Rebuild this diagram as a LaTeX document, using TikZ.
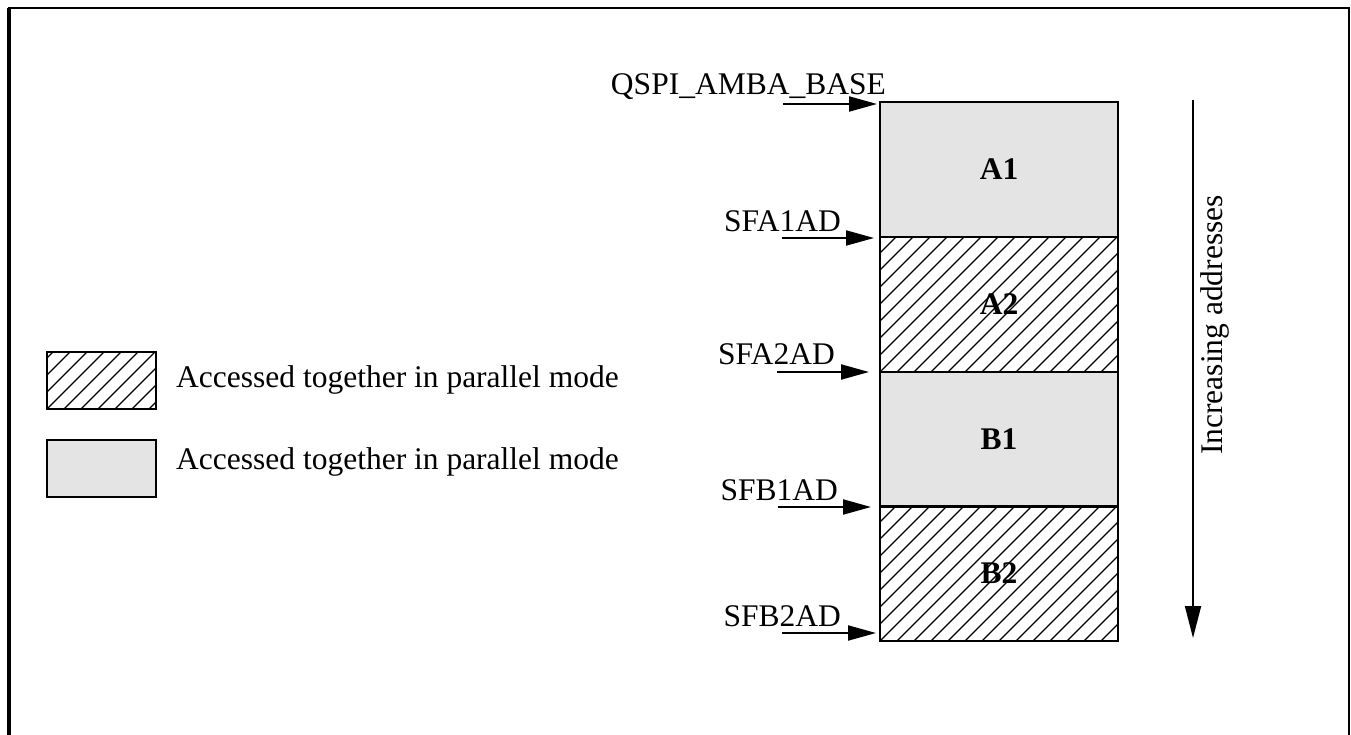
\documentclass[tikz,border=0pt]{standalone}
\usepackage{fontspec}
\setmainfont{Liberation Serif}
\usetikzlibrary{arrows.meta}
\definecolor{memgray}{RGB}{228,228,228}
\begin{document}
\begin{tikzpicture}[x=1pt,y=-1pt,
  txt/.style={font=\fontsize{31.5}{36}\selectfont, inner sep=0pt},
  membox/.style={draw, line width=2pt, minimum width=238pt, minimum height=135pt,
    inner sep=0pt, font=\fontsize{31.5}{36}\selectfont\bfseries},
  grayfill/.style={fill=memgray},
  hatch/.style={path picture={
    \foreach \i in {-340,-323,...,340}{
      \draw[line width=1.1pt] ([xshift=\i pt]path picture bounding box.south west) -- ++(340,-340);}}},
  legbox/.style={draw, line width=1.6pt, minimum width=109pt, minimum height=57pt, inner sep=0pt},
  ptr/.style={-{Triangle[length=28pt,width=15pt]}, line width=2pt},
  addr/.style={txt, anchor=base east}
]
\useasboundingbox (0,0) rectangle (1351,735);
% frame
\draw[line width=3.5pt] (9,735) -- (9,8);
\draw[line width=2pt] (8,8) -- (1349,8) -- (1349,735);

% memory blocks
\node[membox, grayfill] (A1) at (999,169.5) {A1};
\node[membox, hatch] (A2) at (999,304.5) {A2};
\node[membox, grayfill] (B1) at (999,439) {B1};
\node[membox, hatch] (B2) at (999,573.5) {B2};

% address labels
\node[addr] (lq) at (886,95) {QSPI\_AMBA\_BASE};
\node[addr] (la1) at (841,232) {SFA1AD};
\node[addr] (la2) at (835,364) {SFA2AD};
\node[addr] (lb1) at (838,500) {SFB1AD};
\node[addr] (lb2) at (841,626) {SFB2AD};

% pointer arrows
\coordinate (sq) at (783,104);  \coordinate (tq) at (877,104);
\coordinate (sa1) at (782,238); \coordinate (ta1) at (874,238);
\coordinate (sa2) at (777,372); \coordinate (ta2) at (869,372);
\coordinate (sb1) at (778,507); \coordinate (tb1) at (871,507);
\coordinate (sb2) at (782,633); \coordinate (tb2) at (876,633);
\draw[ptr] (sq) -- (tq);
\draw[ptr] (sa1) -- (ta1);
\draw[ptr] (sa2) -- (ta2);
\draw[ptr] (sb1) -- (tb1);
\draw[ptr] (sb2) -- (tb2);

% increasing addresses
\coordinate (inctop) at (1193,100);
\coordinate (incbot) at (1193,638);
\draw[-{Triangle[length=32pt,width=16pt]}, line width=1.8pt] (inctop) -- (incbot);
\node[txt, rotate=90, anchor=north] (inc) at (1200,325) {Increasing addresses};

% legend
\node[legbox, hatch] (lg1) at (101.5,380.5) {};
\node[legbox, grayfill] (lg2) at (101.5,468.5) {};
\node[txt, anchor=west] (lt1) at (176,380) {Accessed together in parallel mode};
\node[txt, anchor=west] (lt2) at (176,462) {Accessed together in parallel mode};
\end{tikzpicture}
\end{document}
